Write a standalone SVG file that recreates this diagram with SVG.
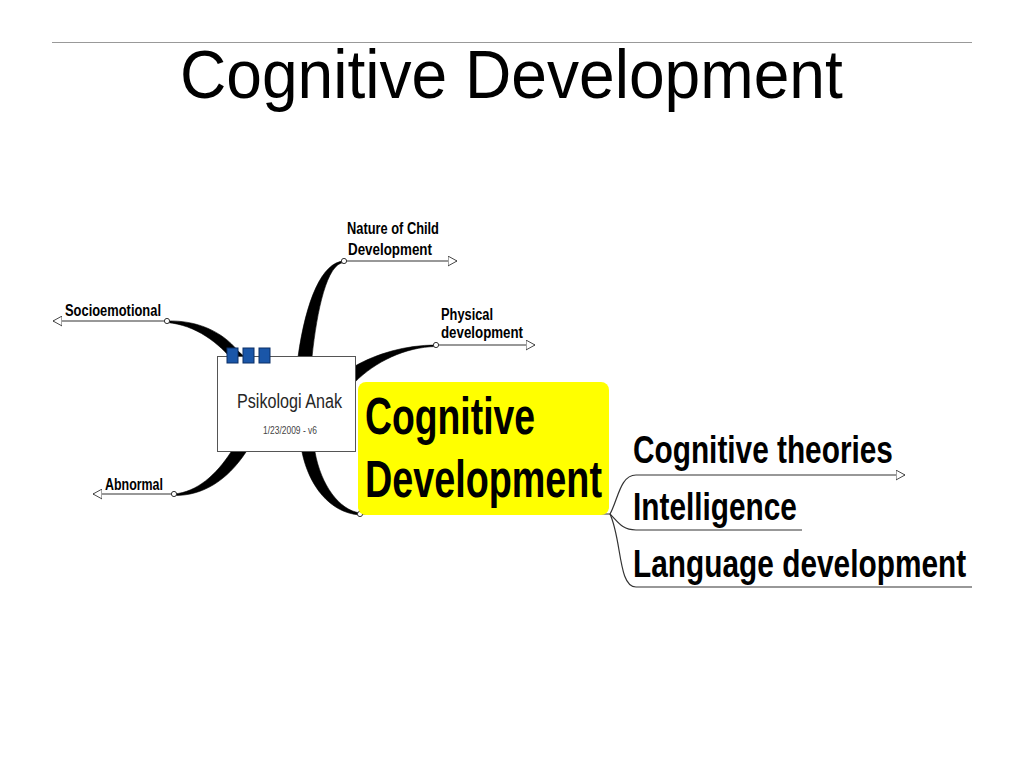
<svg xmlns="http://www.w3.org/2000/svg" width="1024" height="768" viewBox="0 0 1024 768">
<defs>
<style>
.lbl{font-family:"Liberation Sans",Arial,sans-serif;font-weight:bold;fill:#000}
.reg{font-family:"Liberation Sans",Arial,sans-serif}
.thin{fill:none;stroke:#333;stroke-width:1.2}
.taper{fill:#000;stroke:#000;stroke-width:0.6}
.dot{fill:#fff;stroke:#333;stroke-width:1}
.sq{fill:#1a56a8;stroke:#0b2f66;stroke-width:1}
</style>
<marker id="arr" viewBox="0 0 10 12" refX="10" refY="6" markerWidth="9" markerHeight="11" markerUnits="userSpaceOnUse" orient="auto">
<polygon points="0,0.5 10,6 0,11.5" fill="#fff" stroke="#333" stroke-width="1"/>
</marker>
</defs>
<rect width="1024" height="768" fill="#fff"/>
<line x1="52" y1="42.5" x2="972" y2="42.5" stroke="#999" stroke-width="1"/>
<text class="reg" transform="matrix(0.918,0,0,1,180,98)" font-size="68" textLength="722" lengthAdjust="spacingAndGlyphs" fill="#000">Cognitive  Development</text>

<g id="connectors">
<path class="taper" d="M167,321 C196,320 222,331 238,351 L248,360 L235,363 C219,343 196,325 167,322.5 Z"/>
<path class="taper" d="M174,494 C197,492 216,475 231,452 L246,452 C227,481 202,496 174,495.5 Z"/>
<path class="taper" d="M344,261 C322,262 306,300 298,357 L312,357 C317,310 327,263 344,262.5 Z"/>
<path class="taper" d="M436,345 C405,345 376,354 355,366 L355,382 C375,362 405,347 436,346.5 Z"/>
<path class="taper" d="M302,452 C309,486 330,513 360,515 L360,513 C339,510 321,485 315,452 Z"/>
<path class="thin" d="M167,321 L53,321" marker-end="url(#arr)"/>
<path class="thin" d="M174,494 L93,494" marker-end="url(#arr)"/>
<path class="thin" d="M344,261 L457,261" marker-end="url(#arr)"/>
<path class="thin" d="M436,345 L535,345" marker-end="url(#arr)"/>
<path class="thin" d="M360,514 L610,514"/>
<path class="thin" d="M610,514 C618,500 620,475 636,475 L905,475" marker-end="url(#arr)"/>
<path class="thin" d="M610,514 C618,522 622,530 636,530 L802,530"/>
<path class="thin" d="M610,514 C622,540 618,587 636,587 L972,587"/>
<circle class="dot" cx="167" cy="321" r="2.6"/>
<circle class="dot" cx="174" cy="494" r="2.6"/>
<circle class="dot" cx="344" cy="261" r="2.6"/>
<circle class="dot" cx="436" cy="345" r="2.6"/>
<circle class="dot" cx="360" cy="514" r="2.6"/>
</g>

<g id="central">
<rect x="217.5" y="356.5" width="138" height="95" fill="#fff" stroke="#555" stroke-width="1"/>
<rect class="sq" x="227" y="348" width="11" height="15"/>
<rect class="sq" x="243" y="348" width="11" height="15"/>
<rect class="sq" x="259" y="348" width="11" height="15"/>
<text class="reg" transform="matrix(0.762,0,0,1,237,408)" font-size="21" textLength="137.8" lengthAdjust="spacingAndGlyphs" fill="#262626">Psikologi Anak</text>
<text class="reg" transform="matrix(0.768,0,0,1,263,434)" font-size="11" textLength="70.3" lengthAdjust="spacingAndGlyphs" fill="#444">1/23/2009 - v6</text>
</g>

<g id="cognitive">
<rect x="358" y="382" width="251" height="133" rx="8" ry="8" fill="#ffff00"/>
<text class="lbl" transform="matrix(0.718,0,0,1,365,434)" font-size="52" textLength="236.8" lengthAdjust="spacingAndGlyphs">Cognitive</text>
<text class="lbl" transform="matrix(0.726,0,0,1,365,497)" font-size="52" textLength="326.4" lengthAdjust="spacingAndGlyphs">Development</text>
</g>

<g id="socioemotional">
<text class="lbl" transform="matrix(0.758,0,0,1,65,316)" font-size="17" textLength="126.6" lengthAdjust="spacingAndGlyphs">Socioemotional</text>
</g>
<g id="abnormal">
<text class="lbl" transform="matrix(0.731,0,0,1,105,490)" font-size="17" textLength="79.3" lengthAdjust="spacingAndGlyphs">Abnormal</text>
</g>
<g id="nature">
<text class="lbl" transform="matrix(0.755,0,0,1,347,234)" font-size="17" textLength="121.8" lengthAdjust="spacingAndGlyphs">Nature of Child</text>
<text class="lbl" transform="matrix(0.787,0,0,1,348,255)" font-size="17" textLength="106.7" lengthAdjust="spacingAndGlyphs">Development</text>
</g>
<g id="physical">
<text class="lbl" transform="matrix(0.754,0,0,1,441,320)" font-size="17" textLength="69" lengthAdjust="spacingAndGlyphs">Physical</text>
<text class="lbl" transform="matrix(0.782,0,0,1,441,338)" font-size="17" textLength="104.9" lengthAdjust="spacingAndGlyphs">development</text>
</g>
<g id="theories">
<text class="lbl" transform="matrix(0.784,0,0,1,633,463)" font-size="38" textLength="331.5" lengthAdjust="spacingAndGlyphs">Cognitive theories</text>
</g>
<g id="intelligence">
<text class="lbl" transform="matrix(0.787,0,0,1,633,520)" font-size="38" textLength="208.3" lengthAdjust="spacingAndGlyphs">Intelligence</text>
</g>
<g id="language">
<text class="lbl" transform="matrix(0.785,0,0,1,633,577)" font-size="38" textLength="424.4" lengthAdjust="spacingAndGlyphs">Language development</text>
</g>
</svg>
